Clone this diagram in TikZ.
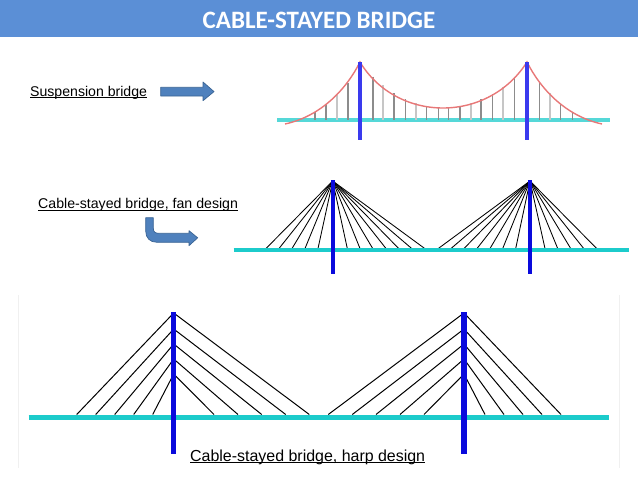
\documentclass[tikz,border=0pt]{standalone}
\usepackage{fontspec}
\setmainfont{Liberation Sans}
\newfontfamily\titlefont{Carlito}
\definecolor{band}{HTML}{5B8FD6}
\definecolor{deck}{HTML}{1CCBCB}
\definecolor{tower}{HTML}{0A0ADC}
\definecolor{susp}{HTML}{3A3AEE}
\definecolor{arrowfill}{HTML}{4F81BD}
\definecolor{arrowedge}{HTML}{3A6494}
\definecolor{curve}{HTML}{E87878}
\newcommand\ulcap[1]{\setbox0=\hbox{#1}\rlap{\rule[-2pt]{\wd0}{0.9pt}}\box0}
\tikzset{
  deckline/.style={draw=deck,line width=4pt},
  towerline/.style={draw=tower,line width=4pt},
  cable/.style={draw=black,line width=1pt},
  fancable/.style={draw=black,line width=0.85pt},
  hanger/.style={draw=gray!90,line width=1.2pt},
  lighthanger/.style={draw=gray!45,line width=2pt},
  blockarrow/.style={fill=arrowfill,draw=arrowedge,line width=0.7pt,line join=round},
  caption/.style={inner sep=0pt,anchor=base west,text=black}
}
\begin{document}
\begin{tikzpicture}[x=1pt,y=-1pt]
\useasboundingbox (0,0) rectangle (638,479);
\fill[band] (0,0) rectangle (638,36.5);
\node[text=white,font=\titlefont\bfseries\fontsize{25}{28}\selectfont] (title) at (319,20.5) {CABLE-STAYED BRIDGE};
% faint frame of pasted picture
\draw[black!6,line width=0.6pt] (18.5,295) -- (18.5,468);
\draw[black!6,line width=0.6pt] (619.5,295) -- (619.5,468);
% suspension bridge
\draw[deck!75,line width=3.2pt] (277,120) -- (610,120);
\foreach \x/\t in {315/112.3,326/104,337/95,348/83.3,
  373/76.7,383.3/85,394/93.3,405.7/99.3,415.7/103.3,426.7/106.7,438.3/108.3,448.3/108.3,460/106.7,471/103.3,481/99.3,492.7/94,503.3/86.7,514.3/76.7,
  539.3/81.7,550/93.3,560.7/104,572.3/112.3}
  \draw[hanger] (\x,\t) -- (\x,120);
\foreach \x/\t in {337/95,383.3/85,415.7/103.3,471/103.3,503.3/86.7,550/93.3}
  \draw[lighthanger] (\x,\t) -- (\x,120);
\draw[curve,line width=1.4pt] (285,124) .. controls (322,116) and (347,88) .. (360,62)
  .. controls (378,92) and (410,108) .. (443,108)
  .. controls (476,108) and (508,92) .. (527,62)
  .. controls (540,88) and (565,116) .. (602,124);
\draw[susp,line width=3.5pt] (360,62) -- (360,140);
\draw[susp,line width=3.5pt] (527,62) -- (527,140);
\node[caption,font=\fontsize{14.1}{16}\selectfont] (s) at (30,96) {\ulcap{Suspension bridge}};
\draw[blockarrow] (160.7,87.3) -- (203,87.3) -- (203,82) -- (214,91.6) -- (203,100.7) -- (203,96) -- (160.7,96) -- cycle;
% fan design
\coordinate (t1) at (332.7,181);
\coordinate (t2) at (530,181);
\foreach \x in {266,279,292,305,318,347.3,360,372.7,386,398.7,411.7,424.7}
  \draw[fancable] (t1) -- (\x,248.5);
\foreach \x in {438.3,451,464,477,490,502.7,515.7,545,557.7,570.7,583.7,596.7}
  \draw[fancable] (t2) -- (\x,248.5);
\draw[deckline] (233.5,250) -- (629,250);
\draw[towerline] (332.7,180) -- (332.7,274);
\draw[towerline] (530,180) -- (530,274);
\node[caption,font=\fontsize{14.15}{16}\selectfont] (f) at (38,208.8) {\ulcap{Cable-stayed bridge, fan design}};
\draw[blockarrow] (145.7,217.7) -- (153.3,217.7) -- (153.3,228) .. controls (153.3,232) and (155,233.3) .. (159,233.3)
  -- (189,233.3) -- (189,230.7) -- (197.7,237.8) -- (189,245.7) -- (189,242.3) -- (157,242.3)
  .. controls (150,242.3) and (145.7,238) .. (145.7,231) -- cycle;
% harp design
\foreach \x/\y in {76.7/313,95.7/329,114.7/344,133.7/359,152.7/374,
  309.3/313,285.7/329,261.7/344,238/359,214/374}
  \draw[cable] (173.7,\y) -- (\x,414.5);
\foreach \x/\y in {328.3/313,352.3/329,376/344,400/359,424/374,
  561/313,542/329,523/344,504/359,485/374}
  \draw[cable] (464,\y) -- (\x,414.5);
\draw[deckline,line width=5pt] (28.5,417) -- (609,417);
\draw[towerline,line width=5.5pt] (173.7,312) -- (173.7,454);
\draw[towerline,line width=5.5pt] (464,312) -- (464,454);
\node[caption,font=\fontsize{15.95}{18}\selectfont] (h) at (190,461) {\ulcap{Cable-stayed bridge, harp design}};
\end{tikzpicture}
\end{document}
